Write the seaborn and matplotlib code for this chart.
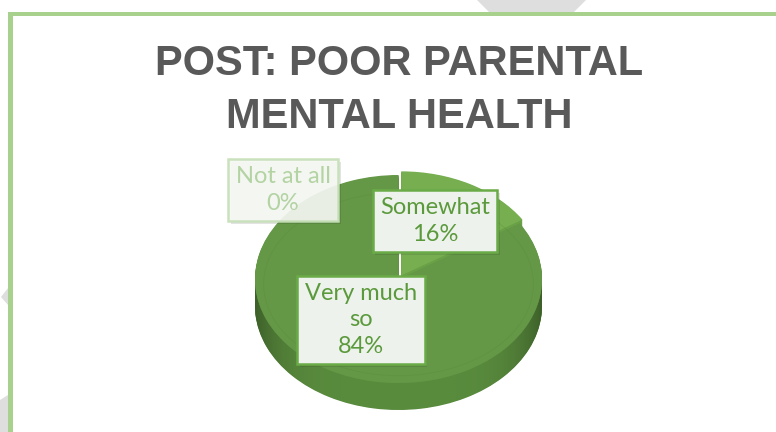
import textwrap

import numpy as np
import matplotlib
matplotlib.use("Agg")
import matplotlib.pyplot as plt
import matplotlib.patheffects as pe
from matplotlib.patches import Polygon, Rectangle, Ellipse
import seaborn as sns

# ---- data -------------------------------------------------------------
title = "POST: POOR PARENTAL\nMENTAL HEALTH"
categories = ["Not at all", "Somewhat", "Very much so"]
percentages = [0, 16, 84]

# ---- style ------------------------------------------------------------
sns.set_theme(style="white")
plt.rcParams["font.family"] = ["Lato", "DejaVu Sans"]

top_colors = ["#6fa84a", "#76ae50", "#649846"]
side_colors = ["#5f9440", "#6aa147", "#5d9140"]
explode = [0.0, 0.04, 0.0]

W, H = 776, 432
fig = plt.figure(figsize=(W / 100, H / 100), dpi=100)
fig.patch.set_facecolor("white")

# background / frame layer in pixel coordinates
bg = fig.add_axes([0, 0, 1, 1], zorder=0)
bg.set_xlim(0, W)
bg.set_ylim(H, 0)
bg.axis("off")

grey = "#dedede"
bg.add_patch(Polygon([(477, 0), (586, 0), (574, 12), (489, 12)], closed=True,
                     fc=grey, ec="none"))
bg.add_patch(Polygon([(8, 288), (1, 297), (8, 305)], closed=True, fc=grey, ec="none"))
bg.add_patch(Polygon([(0, 400), (8, 395), (8, H), (0, H)], closed=True, fc=grey, ec="none"))

frame_green = "#a9d18e"
bg.add_patch(Rectangle((8, 12), W - 8, 3.5, fc=frame_green, ec="none"))
bg.add_patch(Rectangle((8, 12), 5, H - 12, fc=frame_green, ec="none"))

title_font = dict(family=["Liberation Sans", "DejaVu Sans"], fontweight="bold",
                  fontsize=30, color="#595959", ha="center", va="baseline")
line1, line2 = title.split("\n")
bg.text(399, 75, line1, **title_font)
bg.text(399, 128, line2, **title_font)

# ---- pie layer: unit circle stretched into a tilted ellipse ----------
cx, cy, rx, ry, depth = 398.5, 279.0, 143.5, 104.0, 27.0
d = depth / ry
ax = fig.add_axes([0, 0, 1, 1], zorder=1)
ax.patch.set_alpha(0)


def to_data(px, py):
    return (px - cx) / rx, (cy - py) / ry


pie_kw = dict(startangle=90, counterclock=False, explode=explode,
              wedgeprops=dict(linewidth=0))

# side wall: stacked copies of the pie shifted downwards
n_layers = 40
for k in range(n_layers, 0, -1):
    ax.pie(percentages, colors=side_colors, center=(0, -d * k / n_layers), **pie_kw)

# cylindrical shading of the wall (darker towards the left/right ends)
t = np.linspace(np.pi, 2 * np.pi, 200)
band = np.vstack([np.column_stack([np.cos(t), np.sin(t)]),
                  np.column_stack([np.cos(t[::-1]), np.sin(t[::-1]) - d])])
band_patch = Polygon(band, closed=True, fc="none", ec="none")
ax.add_patch(band_patch)
gx = np.linspace(-1, 1, 400)
shade = np.zeros((1, gx.size, 4))
shade[..., 3] = 0.30 * np.abs(gx) ** 5 + 0.04
img = ax.imshow(shade, extent=(-1, 1, -1 - d, 0), aspect="auto",
                interpolation="bilinear", zorder=2)
img.set_clip_path(band_patch)

# top face
wedges, _ = ax.pie(percentages, colors=top_colors, center=(0, 0), **pie_kw)
for w in wedges:
    w.set_zorder(3)

# faint bevel line on the top face
ax.add_patch(Ellipse((0.0, -0.05), 2 * 0.94, 2 * 0.88, fc="none",
                     ec="#4f7f33", lw=0.6, alpha=0.22, zorder=4))

ax.set_aspect("auto")
ax.set_xlim(-cx / rx, (W - cx) / rx)
ax.set_ylim(-(H - cy) / ry, cy / ry)
ax.set_position([0, 0, 1, 1])
ax.axis("off")

# ---- data labels ------------------------------------------------------
label_pos = [(283, 190), (435, 221), (361, 320)]
faded = [True, False, False]
for cat, pct, (px, py), fade in zip(categories, percentages, label_pos, faded):
    txt = textwrap.fill(cat, 10) + f"\n{pct}%"
    x, y = to_data(px, py)
    if fade:
        tc, fc, ec, a = "#b3d3a2", "#f5f8f3", "#c6dfb8", 0.92
    else:
        tc, fc, ec, a = "#5b9a3c", "#eef2ec", "#6aab48", 1.0
    lab = ax.text(x, y, txt, ha="center", va="center", fontsize=17, color=tc,
                  linespacing=1.3, zorder=6,
                  bbox=dict(boxstyle="square,pad=0.32", fc=fc, ec=ec, lw=1.8,
                            alpha=a))
    lab.get_bbox_patch().set_path_effects(
        [pe.SimplePatchShadow(offset=(2, -2), shadow_rgbFace="k", alpha=0.12),
         pe.Normal()])

fig.savefig("out.png", dpi=100)
